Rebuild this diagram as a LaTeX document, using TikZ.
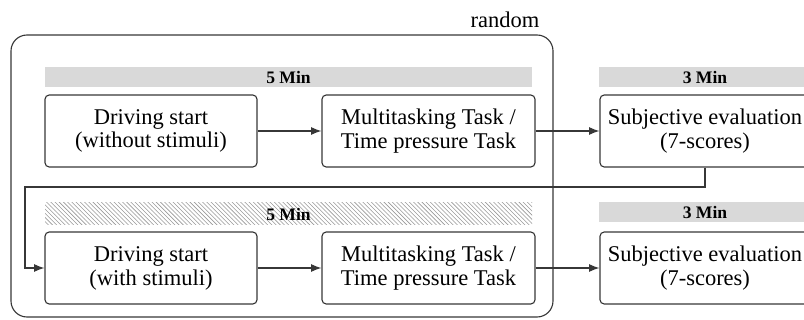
\documentclass[tikz,border=0pt]{standalone}
\usepackage{fontspec}
\setmainfont{Liberation Serif}
\usepackage{xcolor}
\usepackage{tikz}
\usetikzlibrary{arrows.meta, patterns}

\definecolor{barGray}{RGB}{217,217,217}
\definecolor{lineGray}{RGB}{55,55,55}

\begin{document}
\begin{tikzpicture}[
    stage/.style={draw=lineGray, line width=0.8pt, rounded corners=3pt, minimum height=1.8cm, align=center,
        font=\fontsize{16}{17}\selectfont},
    timebar/.style={fill=barGray, minimum height=0.5cm, inner sep=0pt, font=\bfseries\fontsize{12.5}{13}\selectfont},
    hatchbar/.style={pattern=north west lines, pattern color=gray!80, minimum height=0.55cm, inner sep=0pt,
        font=\bfseries\fontsize{12.5}{13}\selectfont},
    flow/.style={draw=lineGray, line width=0.8pt, -{Latex[length=0.26cm, width=0.2cm]}}
]
    \useasboundingbox (0,0) rectangle (20.1,8);

    % Randomised block
    \draw[lineGray, line width=0.8pt, rounded corners=0.4cm] (0.275,0.075) rectangle (13.825,7.125);
    \node[font=\fontsize{16}{17}\selectfont] (random) at (12.625,7.5) {random};

    % Time bars
    \node[timebar, minimum width=12.175cm] (bar1) at (7.2125,6.075) {5 Min};
    \node[timebar, minimum width=5.3cm] (bar2) at (17.625,6.075) {3 Min};
    \node[hatchbar, minimum width=12.175cm] (bar3) at (7.2125,2.65) {5 Min};
    \node[timebar, minimum width=5.3cm] (bar4) at (17.625,2.7) {3 Min};

    % First session (without stimuli)
    \node[stage, minimum width=5.3cm] (drive1) at (3.775,4.725) {Driving start\\(without stimuli)};
    \node[stage, minimum width=5.325cm] (task1) at (10.7125,4.725) {Multitasking Task /\\Time pressure Task};
    \node[stage, minimum width=5.25cm] (eval1) at (17.625,4.725) {Subjective evaluation\\(7-scores)};

    % Second session (with stimuli)
    \node[stage, minimum width=5.3cm] (drive2) at (3.775,1.3) {Driving start\\(with stimuli)};
    \node[stage, minimum width=5.325cm] (task2) at (10.7125,1.3) {Multitasking Task /\\Time pressure Task};
    \node[stage, minimum width=5.25cm] (eval2) at (17.625,1.3) {Subjective evaluation\\(7-scores)};

    % Connectors
    \draw[flow] (drive1) -- (task1);
    \draw[flow] (task1) -- (eval1);
    \coordinate (turn) at (0.625,3.325);
    \draw[flow] (eval1.south) |- (turn) |- (drive2.west);
    \draw[flow] (drive2) -- (task2);
    \draw[flow] (task2) -- (eval2);
\end{tikzpicture}
\end{document}
